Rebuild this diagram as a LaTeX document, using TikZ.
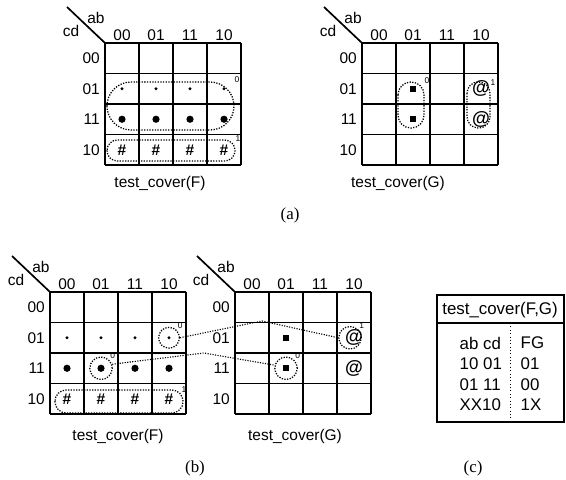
\documentclass[tikz,border=0pt]{standalone}
\usepackage{fontspec}
\setmainfont{Liberation Sans}
\newfontfamily\capfont{Liberation Serif}

\tikzset{
  gridline/.style={line width=1.2pt},
  lbl/.style={font=\fontsize{11}{12}\selectfont, inner sep=1.5pt},
  tbl/.style={font=\fontsize{12}{13}\selectfont, inner sep=1pt},
  captext/.style={font=\capfont\fontsize{12}{13}\selectfont},
  tiny/.style={font=\fontsize{6}{6}\selectfont, inner sep=0.5pt},
  sdot/.style={circle, fill, inner sep=0pt, minimum size=0.8mm},
  bdot/.style={circle, fill, inner sep=0pt, minimum size=1.8mm},
  sq/.style={rectangle, fill, inner sep=0pt, minimum size=1.5mm},
  hash/.style={font=\fontsize{11}{11}\selectfont\bfseries, inner sep=0pt},
  atsign/.style={font=\fontsize{13}{13}\selectfont\bfseries, inner sep=0pt},
  cover/.style={densely dotted, line width=0.9pt},
  ring/.style={cover, draw, circle, inner sep=0pt, minimum size=5.6mm},
  link/.style={densely dotted, line width=0.8pt},
}

% empty 4x4 map with ab/cd headers, cell centres named #1-ij
\newcommand{\kmap}[1]{%
  \foreach \k in {0,...,4} {
    \draw[gridline] (34*\k,0) -- (34*\k,122);
    \draw[gridline] (0,30.5*\k) -- (136,30.5*\k);
  }
  \draw[gridline] (0,0) -- (-38,-36);
  \node[lbl] (#1-ab) at (-9,-25) {ab};
  \node[lbl] (#1-cd) at (-34,-12) {cd};
  \foreach \v [count=\k from 0] in {00,01,11,10} {
    \node[lbl, above] (#1-col\k) at (34*\k+17,0) {\v};
    \node[lbl, left=2pt] (#1-row\k) at (0,30.5*\k+15.25) {\v};
  }
  \foreach \i in {0,...,3}
    \foreach \j in {0,...,3}
      \coordinate (#1-\i\j) at (34*\i+17,30.5*\j+15.25);
}

% entries of F
\newcommand{\fcells}[1]{%
  \foreach \i in {0,...,3} {
    \node[sdot] (#1-s\i) at (#1-\i1) {};
    \node[bdot] (#1-b\i) at (#1-\i2) {};
    \node[hash] (#1-h\i) at (#1-\i3) {\#};
  }
}

% entries of G
\newcommand{\gcells}[1]{%
  \foreach \j in {1,2} {
    \node[sq] (#1-q\j) at (#1-1\j) {};
    \node[atsign] (#1-a\j) at (#1-3\j) {@};
  }
}

\begin{document}
\begin{tikzpicture}[x=0.25mm, y=-0.25mm]
\useasboundingbox (0,0) rectangle (566,479);

% (a) covers of F and G
\begin{scope}[shift={(105,43)}]
  \kmap{aF}
  \fcells{aF}
  \draw[cover, rounded corners=6mm] (2,39) rectangle (129,87);
  \draw[cover, rounded corners=2.6mm] (2,97) rectangle (130,118);
  \node[tiny] (aF-n0) at (132,37) {0};
  \node[tiny] (aF-n1) at (133,96) {1};
\end{scope}
\node[lbl] (aF-name) at (160,183) {test\_cover(F)};

\begin{scope}[shift={(362,43)}]
  \kmap{aG}
  \gcells{aG}
  \draw[cover, rounded corners=3.2mm] (36,39) rectangle (62,85);
  \draw[cover, rounded corners=2.8mm] (105,39) rectangle (128,85);
  \node[tiny] (aG-n0) at (65,38) {0};
  \node[tiny] (aG-n1) at (131,40) {1};
\end{scope}
\node[lbl] (aG-name) at (398,183) {test\_cover(G)};

\node[captext] (cap-a) at (290,215) {(a)};

% (b) single tests picked from each cover
\begin{scope}[shift={(50,292)}]
  \kmap{bF}
  \fcells{bF}
  \node[ring, minimum size=5.2mm, label={[tiny]45:0}] (bF-ring1) at (bF-31) {};
  \node[ring, label={[tiny]45:0}] (bF-ring2) at (bF-12) {};
  \draw[cover, rounded corners=2.8mm] (5,98) rectangle (133,121);
  \node[tiny] (bF-n1) at (134,98) {1};
\end{scope}
\node[lbl] (bF-name) at (118,436) {test\_cover(F)};

\begin{scope}[shift={(235,292)}]
  \kmap{bG}
  \gcells{bG}
  \node[ring, label={[tiny]45:0}] (bG-ring1) at (bG-12) {};
  \node[ring, xshift=-1mm, label={[tiny]45:1}] (bG-ring2) at (bG-31) {};
\end{scope}
\node[lbl] (bG-name) at (295,436) {test\_cover(G)};

\coordinate (k1) at (262,321);
\coordinate (k2) at (204,353);
\draw[link] (bF-ring1.east) -- (k1) -- (bG-ring2.west);
\draw[link] (bF-ring2.20) -- (k2) -- (bG-ring1.165);

\node[captext] (cap-b) at (195,468) {(b)};

% (c) combined test set
\draw[gridline] (437,295) rectangle (564,422);
\draw[gridline] (437,323) -- (564,323);
\draw[dotted] (510,323) -- (510,422);
\node[tbl] (tc-head) at (500,310) {test\_cover(F,G)};
\foreach \l/\r [count=\k from 0] in {ab cd/FG, 10 01/01, 01 11/00, XX10/1X} {
  \node[tbl, anchor=west] (tc-l\k) at (458,343+20.7*\k) {\l};
  \node[tbl, anchor=west] (tc-r\k) at (519,343+20.7*\k) {\r};
}
\node[captext] (cap-c) at (473,468) {(c)};
\end{tikzpicture}
\end{document}
